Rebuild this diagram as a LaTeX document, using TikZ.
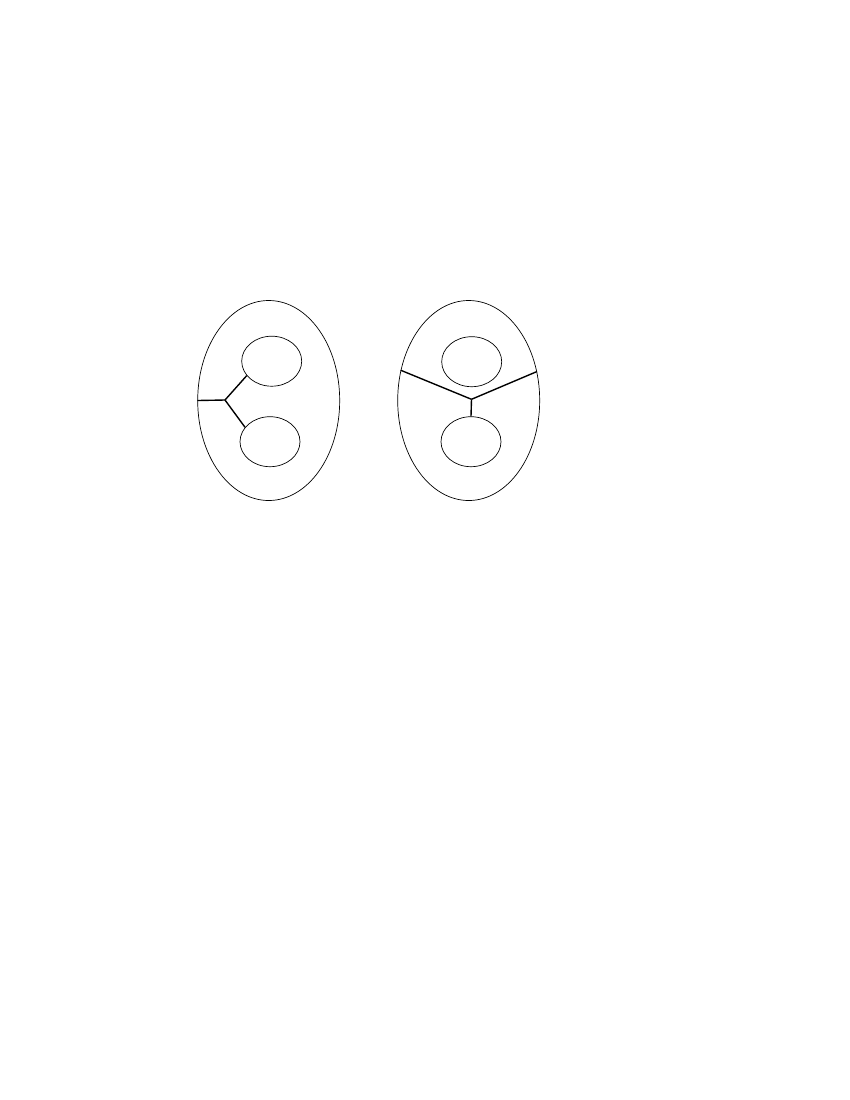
\documentclass[tikz,border=0pt]{standalone}
\usepackage{tikz}
\usetikzlibrary{shapes.geometric}

\begin{document}
\begin{tikzpicture}[
        x = 0.254mm,
        y = -0.254mm,
        inner sep = 0pt
    ]
    \tikzstyle{cell} = [ellipse, draw=black, line width=0.5pt, minimum width=1.42in, minimum height=2.0in];
    \tikzstyle{nucleus} = [ellipse, draw=black, line width=0.5pt, minimum width=0.6in, minimum height=0.5in];
    \tikzstyle{wall} = [draw=black, line width=1pt];
    \useasboundingbox (0,0) rectangle (850,1100);
    \node [cell] (bigL) at (268.7,400.5) {};
    \node [nucleus] (topL) at (271.7,361.2) {};
    \node [nucleus] (botL) at (270,441.7) {};
    \node [cell] (bigR) at (468.7,400.5) {};
    \node [nucleus] (topR) at (471.7,361.7) {};
    \node [nucleus] (botR) at (471,441.7) {};
    \coordinate (jL) at (225,400);
    \coordinate (jR) at (471.5,399.3);
    \draw [wall] (bigL.west) -- (jL);
    \draw [wall] (jL) -- (topL.210);
    \draw [wall] (jL) -- (botL.150);
    \draw [wall] (bigR.156) -- (jR);
    \draw [wall] (jR) -- (bigR.23);
    \draw [wall] (jR) -- (botR.north);
\end{tikzpicture}
\end{document}
